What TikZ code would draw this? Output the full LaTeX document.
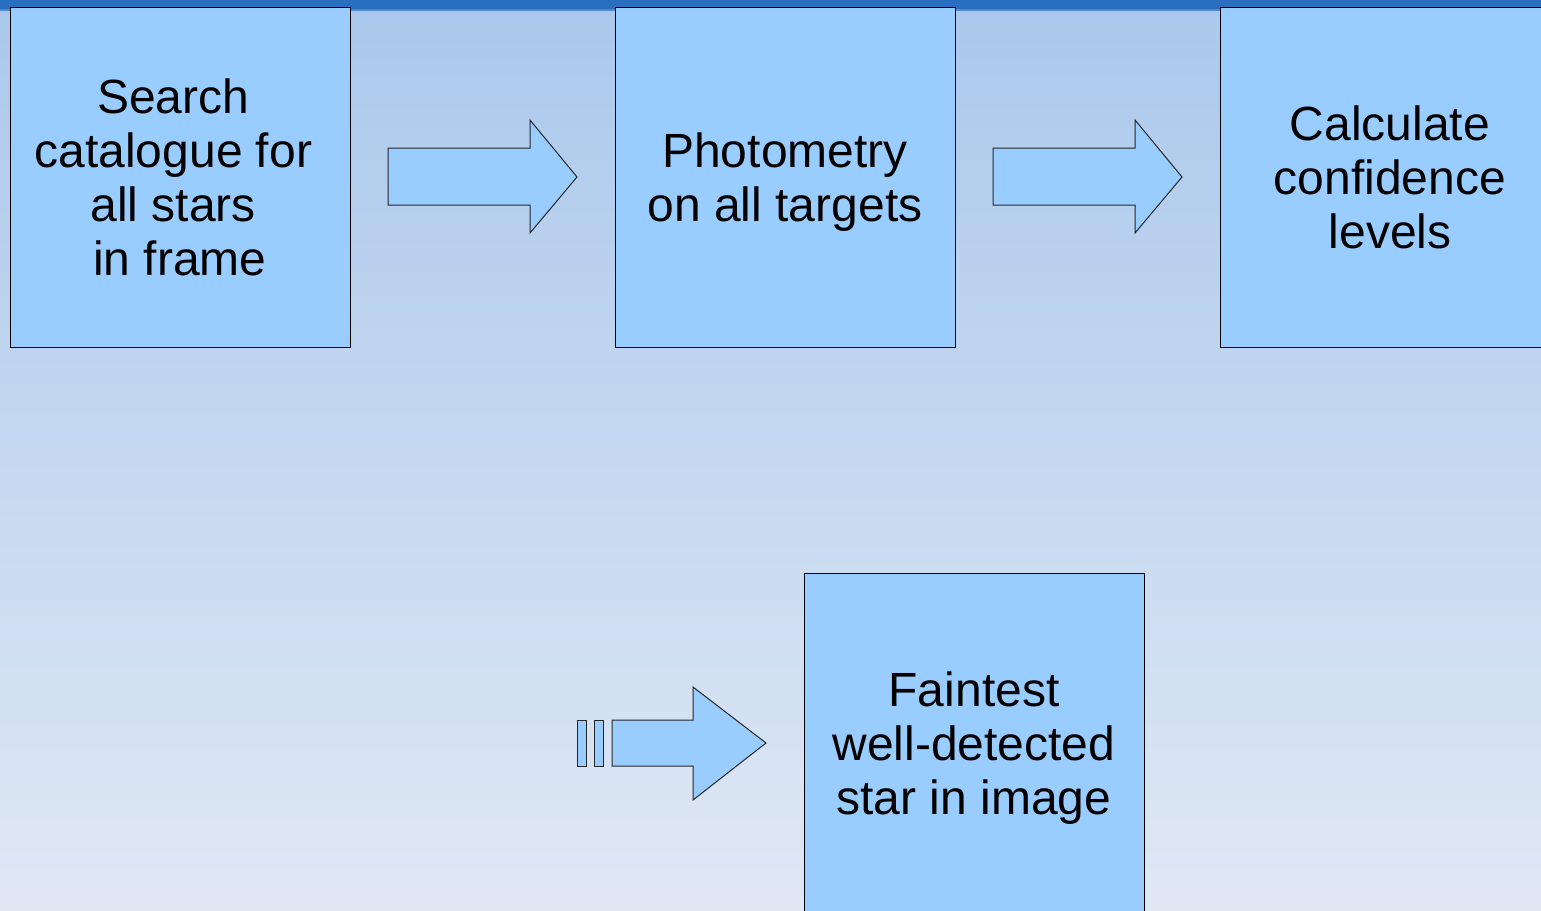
\documentclass[tikz,border=0pt]{standalone}
\usepackage{fontspec}
\setmainfont{Liberation Sans}
\definecolor{boxblue}{HTML}{99CCFF}
\definecolor{barblue}{HTML}{2A6EC0}
\definecolor{bgtop}{HTML}{AAC8EC}
\definecolor{bgbottom}{HTML}{E0E8F4}

\begin{document}
\begin{tikzpicture}[x=1pt, y=-1pt,
    stage/.style ={rectangle, draw=black, line width=1pt, fill=boxblue,
      minimum width=340pt, minimum height=340pt, align=center, inner sep=0pt,
      text depth=0pt, font=\fontsize{48}{54}\selectfont},
    blockarrow/.style ={draw=black!85, line width=1pt, fill=boxblue, line join=miter}]
   \useasboundingbox (0,0) rectangle (1541,910);
   \shade[top color=bgtop, bottom color=bgbottom] (0,0) rectangle (1541,910);
   \fill[barblue] (0,0) rectangle (1541,9);
   \fill[barblue!70!bgtop] (0,9) rectangle (1541,10.5);
   % stages
   \node[stage] (search) at (180,177)  {Search\ \null\\catalogue for\ \null\\all stars\ \null\\in frame};
   \node[stage] (photo) at (785,177)  {Photometry\\on all targets};
   \node[stage] (conf) at (1390,177)  {Calculate\\confidence\\levels};
   \node[stage] (faint) at (974,743)  {Faintest\\well-detected\\star in image};
   % block arrows
   \draw[blockarrow] (388,148) -- (530,148) -- (530,120) -- (577,177)
      -- (530,233) -- (530,205) -- (388,205) -- cycle;
   \draw[blockarrow] (993,148) -- (1135,148) -- (1135,120) -- (1182,177)
      -- (1135,233) -- (1135,205) -- (993,205) -- cycle;
   \draw[blockarrow] (612,720) -- (693,720) -- (693,687) -- (766,743)
      -- (693,800) -- (693,766) -- (612,766) -- cycle;
   \draw[blockarrow] (577,720) rectangle (586,766);
   \draw[blockarrow] (594.5,720) rectangle (603.5,766);
 \end{tikzpicture}
\end{document}
